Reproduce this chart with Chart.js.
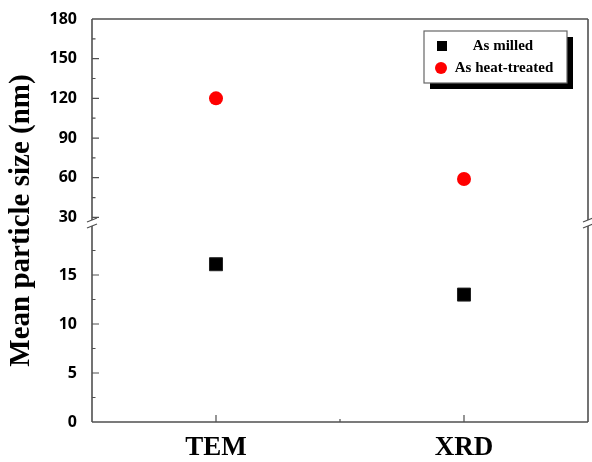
<!DOCTYPE html>
<html><head><meta charset="utf-8">
<script src="https://cdn.jsdelivr.net/npm/chart.js@4.4.1/dist/chart.umd.min.js"></script>
<style>html,body{margin:0;padding:0;background:#fff;}#wrap{width:592px;height:462px;}</style>
</head><body><div id="wrap"><canvas id="c" width="592" height="462"></canvas></div>
<script>
const categories = ['TEM', 'XRD'];
const asMilled = [16.1, 13.0];
const asHeatTreated = [120, 59];
const seriesNames = ['As milled', 'As heat-treated'];
const lowerTicks = [0, 5, 10, 15];
const lowerMinor = [2.5, 7.5, 12.5, 17.5];
const upperTicks = [30, 60, 90, 120, 150, 180];
const upperMinor = [45, 75, 105, 135, 165];
const yTitle = 'Mean particle size (nm)';

const SERIF = "'Times New Roman', 'Liberation Serif', serif";
const SANS = "'Open Sans', 'Noto Sans', sans-serif";
const AXIS = '#505050';

const framePlugin = {
  id: 'frame',
  afterDraw(chart) {
    const ctx = chart.ctx;
    const a = chart.chartArea;
    const yl = chart.scales.yLow, yh = chart.scales.yHigh, x = chart.scales.x;
    const brk = yl.top - 3;
    ctx.save();
    ctx.strokeStyle = AXIS;
    ctx.lineWidth = 1.6;
    // frame
    ctx.beginPath();
    ctx.moveTo(a.left, a.top); ctx.lineTo(a.right, a.top);
    ctx.moveTo(a.left, a.bottom); ctx.lineTo(a.right, a.bottom);
    ctx.moveTo(a.left, a.top); ctx.lineTo(a.left, brk - 3);
    ctx.moveTo(a.left, brk + 3); ctx.lineTo(a.left, a.bottom);
    ctx.moveTo(a.right, a.top); ctx.lineTo(a.right, brk - 3);
    ctx.moveTo(a.right, brk + 3); ctx.lineTo(a.right, a.bottom);
    ctx.stroke();
    // break marks
    ctx.lineWidth = 1.3;
    ctx.beginPath();
    [a.left, a.right].forEach(px => {
      ctx.moveTo(px - 5, brk - 1); ctx.lineTo(px + 5, brk - 5);
      ctx.moveTo(px - 5, brk + 5); ctx.lineTo(px + 5, brk + 1);
    });
    ctx.stroke();
    // ticks (inward)
    ctx.lineWidth = 1.2;
    ctx.beginPath();
    const yt = (sc, vals, len) => vals.forEach(v => {
      const py = sc.getPixelForValue(v);
      ctx.moveTo(a.left, py); ctx.lineTo(a.left + len, py);
    });
    yt(yh, upperTicks.slice(0, -1), 7);
    yt(yh, upperMinor, 3.5);
    yt(yl, lowerTicks.slice(1), 7);
    yt(yl, lowerMinor, 3.5);
    categories.forEach((c, i) => {
      const px = x.getPixelForValue(i);
      ctx.moveTo(px, a.bottom); ctx.lineTo(px, a.bottom - 7);
    });
    const mid = (x.getPixelForValue(0) + x.getPixelForValue(1)) / 2;
    ctx.moveTo(mid, a.bottom); ctx.lineTo(mid, a.bottom - 3);
    ctx.stroke();
    // y title
    ctx.save();
    ctx.translate(22, (a.top + a.bottom) / 2);
    ctx.rotate(-Math.PI / 2);
    ctx.fillStyle = '#000';
    ctx.font = "bold 29px " + SERIF;
    ctx.textAlign = 'center';
    ctx.textBaseline = 'middle';
    ctx.fillText(yTitle, 0, 0);
    ctx.restore();
    // legend
    const lx = a.right - 164, ly = a.top + 12, lw = 143, lh = 52;
    ctx.fillStyle = '#000';
    ctx.fillRect(lx + 6, ly + 6, lw, lh);
    ctx.fillStyle = '#fff';
    ctx.fillRect(lx, ly, lw, lh);
    ctx.strokeStyle = '#666';
    ctx.lineWidth = 1.2;
    ctx.strokeRect(lx, ly, lw, lh);
    const ds = chart.data.datasets;
    ctx.fillStyle = ds[0].backgroundColor;
    ctx.fillRect(lx + 13, ly + 10, 10, 10);
    ctx.fillStyle = ds[1].backgroundColor;
    ctx.beginPath(); ctx.arc(lx + 17, ly + 37, 6, 0, Math.PI * 2); ctx.fill();
    ctx.fillStyle = '#000';
    ctx.font = "bold 15px " + SERIF;
    ctx.textAlign = 'center';
    ctx.textBaseline = 'middle';
    ctx.fillText(ds[0].label, lx + 79, ly + 15);
    ctx.fillText(ds[1].label, lx + 80, ly + 37);
    ctx.restore();
  }
};

const yCommon = {
  type: 'linear', position: 'left', stack: 'y',
  grid: { display: true, drawOnChartArea: false, drawTicks: true, tickLength: 15, tickColor: 'rgba(0,0,0,0)' },
  border: { display: false },
  ticks: { font: { family: SANS, size: 16, weight: 'bold' }, color: '#000', padding: 0 },
  afterFit(s) { s.width = 92; }
};

new Chart(document.getElementById('c'), {
  type: 'line',
  data: {
    labels: categories,
    datasets: [
      { label: seriesNames[0], data: asMilled, yAxisID: 'yLow', showLine: false,
        pointStyle: 'rect', pointRadius: 9.2, backgroundColor: '#000', borderColor: '#222', borderWidth: 1 },
      { label: seriesNames[1], data: asHeatTreated, yAxisID: 'yHigh', showLine: false,
        pointStyle: 'circle', pointRadius: 7, backgroundColor: '#ff0000', borderColor: '#ff0000', borderWidth: 0 }
    ]
  },
  options: {
    responsive: false, animation: false,
    layout: { autoPadding: false, padding: { top: 19, right: 4, left: 0, bottom: 0 } },
    plugins: { legend: { display: false }, tooltip: { enabled: false } },
    scales: {
      x: { type: 'category', offset: true, grid: { display: false }, border: { display: false },
        ticks: { font: { family: SERIF, size: 27, weight: 'bold' }, color: '#000', padding: 2 },
        afterFit(s) { s.height = 40; } },
      yLow: Object.assign({}, yCommon, { stackWeight: 196, min: 0, max: 20,
        afterBuildTicks(s) { s.ticks = lowerTicks.map(v => ({ value: v })); } }),
      yHigh: Object.assign({}, yCommon, { stackWeight: 207, min: 23.5, max: 180,
        afterBuildTicks(s) { s.ticks = upperTicks.map(v => ({ value: v })); } })
    }
  },
  plugins: [framePlugin]
});
</script></body></html>
